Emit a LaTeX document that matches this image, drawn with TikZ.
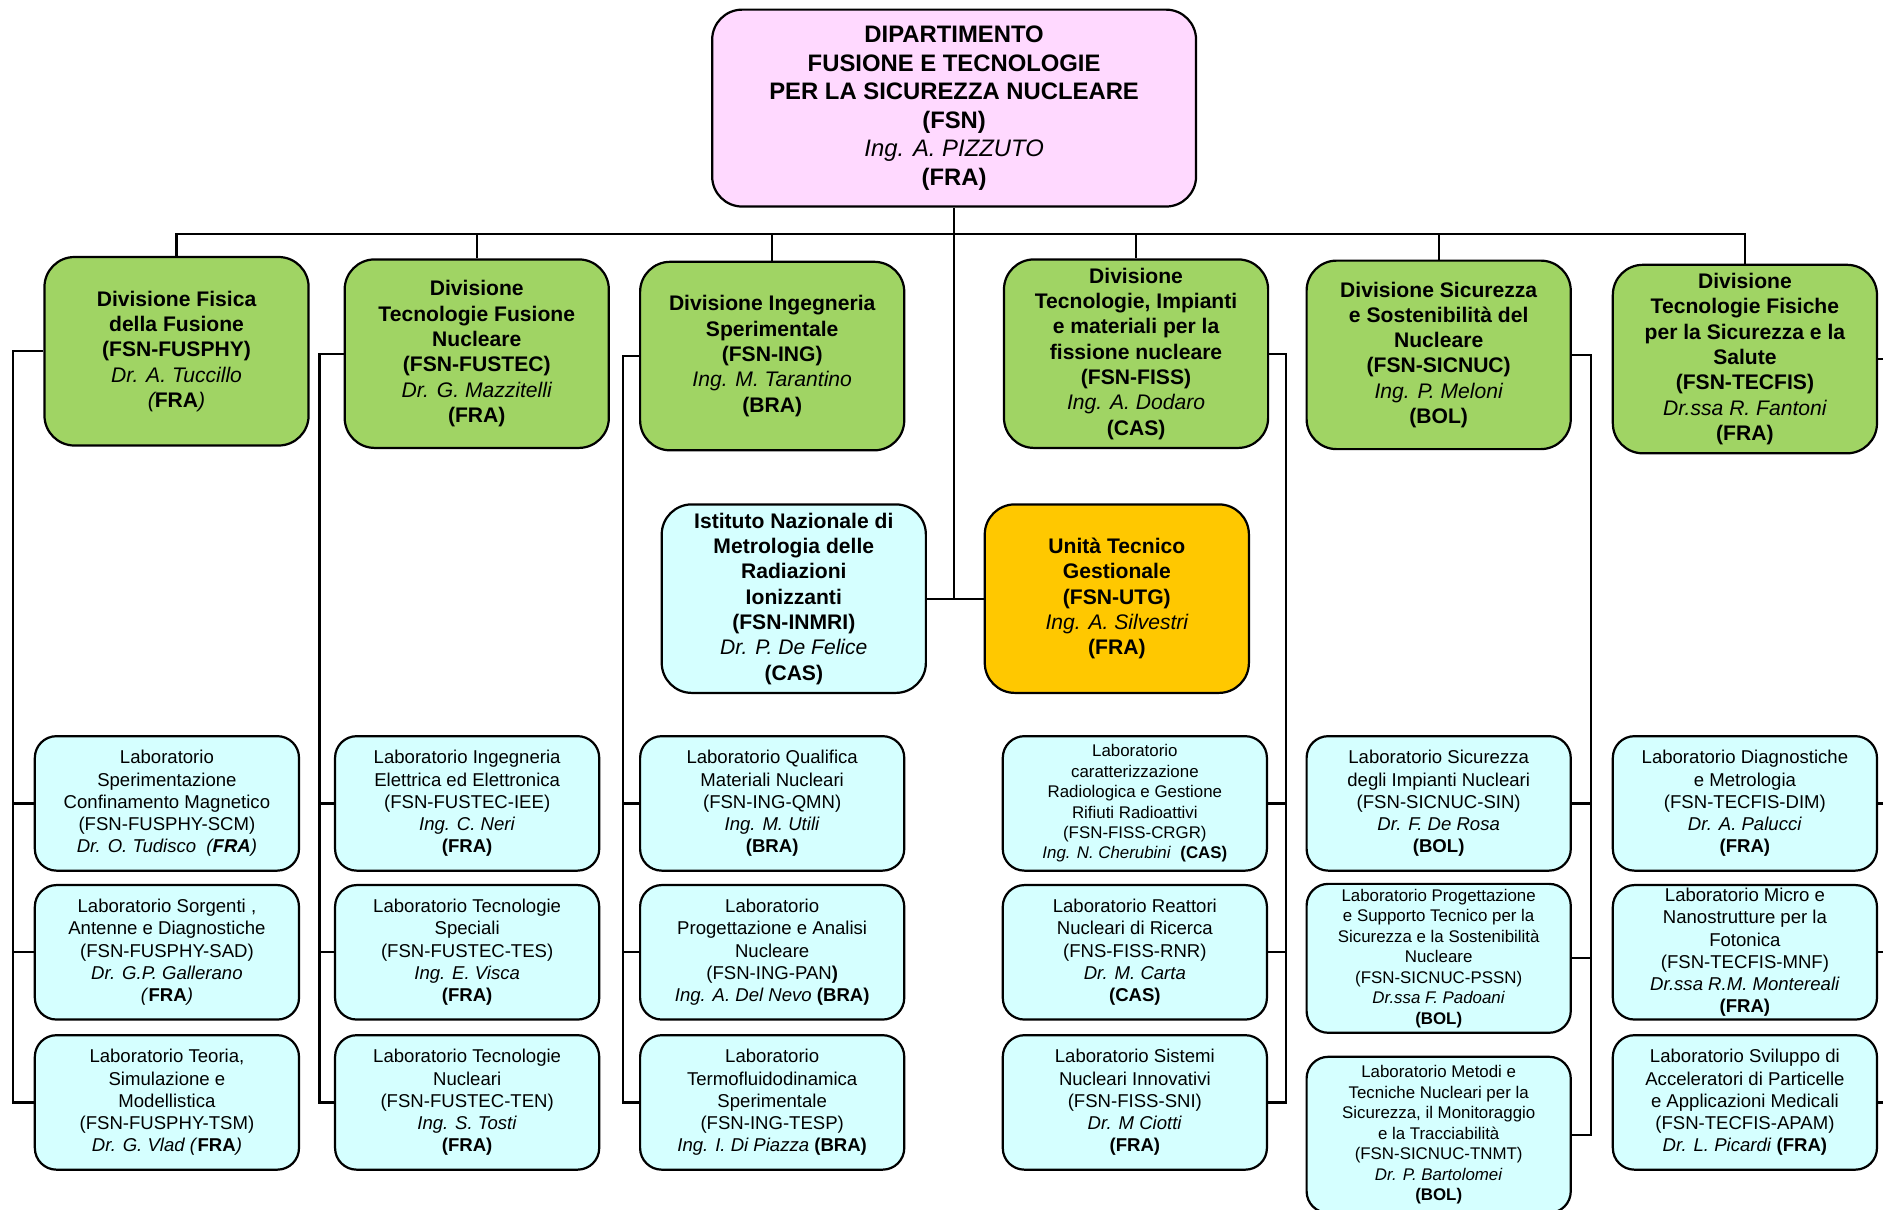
\documentclass[tikz,border=0pt]{standalone}
\usepackage{fontspec}
\setmainfont{Liberation Sans}
\usepackage{tikz}

\definecolor{fsnpink}{RGB}{255,217,255}
\definecolor{divgreen}{RGB}{160,212,100}
\definecolor{labcyan}{RGB}{213,255,255}
\definecolor{utgorange}{RGB}{255,200,0}

\newcommand{\who}[1]{{\mdseries\itshape #1}}

\begin{document}
\begin{tikzpicture}[x=0.02cm, y=-0.02cm, line width=1.05pt,
    dipbox/.style={draw, fill=fsnpink, rounded corners=0.5cm, align=center, inner sep=1pt,
        minimum width=8.06cm, minimum height=3.28cm, font=\fontsize{11.3}{13.5}\selectfont\bfseries},
    divbox/.style={draw, fill=divgreen, rounded corners=0.5cm, align=center, inner sep=1pt,
        minimum width=4.4cm, minimum height=3.14cm, font=\fontsize{10}{12}\selectfont\bfseries},
    labbox/.style={draw, fill=labcyan, rounded corners=0.36cm, align=center, inner sep=1pt,
        minimum width=4.4cm, minimum height=2.24cm, font=\fontsize{8.8}{10.5}\selectfont},
    labsmall/.style={labbox, font=\fontsize{8}{9.7}\selectfont}]

    \useasboundingbox (0,0) rectangle (1568,1007);

    % Department
    \node[dipbox] (dip) at (794.5,90) {DIPARTIMENTO\\FUSIONE E TECNOLOGIE\\PER LA SICUREZZA NUCLEARE\\(FSN)\\\who{Ing. A. PIZZUTO}\\(FRA)};

    % Divisions
    \node[divbox] (div1) at (147,292.5) {Divisione Fisica\\della Fusione\\(FSN-FUSPHY)\\\who{Dr. A. Tuccillo}\\\who{(}FRA\who{)}};
    \node[divbox] (div2) at (397,294.5) {Divisione\\Tecnologie Fusione\\Nucleare\\(FSN-FUSTEC)\\\who{Dr. G. Mazzitelli}\\(FRA)};
    \node[divbox] (div3) at (643,296.5) {Divisione Ingegneria\\Sperimentale\\(FSN-ING)\\\who{Ing. M. Tarantino}\\(BRA)};
    \node[divbox] (div4) at (946,294.5) {Divisione\\Tecnologie, Impianti\\e materiali per la\\fissione nucleare\\(FSN-FISS)\\\who{Ing. A. Dodaro}\\(CAS)};
    \node[divbox] (div5) at (1198,295.5) {Divisione Sicurezza\\e Sostenibilità del\\Nucleare\\(FSN-SICNUC)\\\who{Ing. P. Meloni}\\(BOL)};
    \node[divbox] (div6) at (1453,299) {Divisione\\Tecnologie Fisiche\\per la Sicurezza e la\\Salute\\(FSN-TECFIS)\\\who{Dr.ssa R. Fantoni}\\(FRA)};

    % Institute and unit
    \node[divbox, fill=labcyan] (inmri) at (661,498.5) {Istituto Nazionale di\\Metrologia delle\\Radiazioni\\Ionizzanti\\(FSN-INMRI)\\\who{Dr. P. De Felice}\\(CAS)};
    \node[divbox, fill=utgorange] (utg) at (930,498.5) {Unità Tecnico\\Gestionale\\(FSN-UTG)\\\who{Ing. A. Silvestri}\\(FRA)};

    % Laboratories FUSPHY
    \node[labbox] (lab11) at (139,669) {Laboratorio\\Sperimentazione\\Confinamento Magnetico\\(FSN-FUSPHY-SCM)\\\textit{Dr. O. Tudisco\ \ (\textbf{FRA})}};
    \node[labbox] (lab12) at (139,793) {Laboratorio Sorgenti ,\\Antenne e Diagnostiche\\(FSN-FUSPHY-SAD)\\\textit{Dr. G.P. Gallerano}\\\textit{(}\textbf{FRA}\textit{)}};
    \node[labbox] (lab13) at (139,918) {Laboratorio Teoria,\\Simulazione e\\Modellistica\\(FSN-FUSPHY-TSM)\\\textit{Dr. G. Vlad (}\textbf{FRA}\textit{)}};

    % Laboratories FUSTEC
    \node[labbox] (lab21) at (389,669) {Laboratorio Ingegneria\\Elettrica ed Elettronica\\(FSN-FUSTEC-IEE)\\\textit{Ing. C. Neri}\\\textbf{(FRA)}};
    \node[labbox] (lab22) at (389,793) {Laboratorio Tecnologie\\Speciali\\(FSN-FUSTEC-TES)\\\textit{Ing. E. Visca}\\\textbf{(FRA)}};
    \node[labbox] (lab23) at (389,918) {Laboratorio Tecnologie\\Nucleari\\(FSN-FUSTEC-TEN)\\\textit{Ing. S. Tosti}\\\textbf{(FRA)}};

    % Laboratories ING
    \node[labbox] (lab31) at (643,669) {Laboratorio Qualifica\\Materiali Nucleari\\(FSN-ING-QMN)\\\textit{Ing. M. Utili}\\\textbf{(BRA)}};
    \node[labbox] (lab32) at (643,793) {Laboratorio\\Progettazione e Analisi\\Nucleare\\(FSN-ING-PAN\textbf{)}\\\textit{Ing. A. Del Nevo} \textbf{(BRA)}};
    \node[labbox] (lab33) at (643,918) {Laboratorio\\Termofluidodinamica\\Sperimentale\\(FSN-ING-TESP)\\\textit{Ing. I. Di Piazza} \textbf{(BRA)}};

    % Laboratories FISS
    \node[labsmall] (lab41) at (945,669) {Laboratorio\\caratterizzazione\\Radiologica e Gestione\\Rifiuti Radioattivi\\(FSN-FISS-CRGR)\\\textit{Ing. N. Cherubini}\ \ \textbf{(CAS)}};
    \node[labbox] (lab42) at (945,793) {Laboratorio Reattori\\Nucleari di Ricerca\\(FNS-FISS-RNR)\\\textit{Dr. M. Carta}\\\textbf{(CAS)}};
    \node[labbox] (lab43) at (945,918) {Laboratorio Sistemi\\Nucleari Innovativi\\(FSN-FISS-SNI)\\\textit{Dr. M Ciotti}\\\textbf{(FRA)}};

    % Laboratories SICNUC
    \node[labbox] (lab51) at (1198,669) {Laboratorio Sicurezza\\degli Impianti Nucleari\\(FSN-SICNUC-SIN)\\\textit{Dr. F. De Rosa}\\\textbf{(BOL)}};
    \node[labsmall, minimum height=2.48cm] (lab52) at (1198,798) {Laboratorio Progettazione\\e Supporto Tecnico per la\\Sicurezza e la Sostenibilità\\Nucleare\\(FSN-SICNUC-PSSN)\\\textit{Dr.ssa F. Padoani}\\\textbf{(BOL)}};
    \node[labsmall, minimum height=2.6cm] (lab53) at (1198,945) {Laboratorio Metodi e\\Tecniche Nucleari per la\\Sicurezza, il Monitoraggio\\e la Tracciabilità\\(FSN-SICNUC-TNMT)\\\textit{Dr. P. Bartolomei}\\\textbf{(BOL)}};

    % Laboratories TECFIS
    \node[labbox] (lab61) at (1453,669) {Laboratorio Diagnostiche\\e Metrologia\\(FSN-TECFIS-DIM)\\\textit{Dr. A. Palucci}\\\textbf{(FRA)}};
    \node[labbox] (lab62) at (1453,793) {Laboratorio Micro e\\Nanostrutture per la\\Fotonica\\(FSN-TECFIS-MNF)\\\textit{Dr.ssa R.M. Montereali}\\\textbf{(FRA)}};
    \node[labbox] (lab63) at (1453,918) {Laboratorio Sviluppo di\\Acceleratori di Particelle\\e Applicazioni Medicali\\(FSN-TECFIS-APAM)\\\textit{Dr. L. Picardi} \textbf{(FRA)}};

    % Bus from the department to the divisions
    \coordinate (bus) at (0,195);
    \draw (div1.north) -- (div1.north |- bus) -- (div6.north |- bus) -- (div6.north);
    \foreach \d in {div2,div3,div4,div5} {
        \draw (\d.north) -- (\d.north |- bus);
    }
    \draw (dip.south) -- (dip.south |- inmri.east);
    \draw (inmri.east) -- (utg.west);

    % Divisions to their laboratories (left side)
    \draw (div1.west) -- ++(-25,0) |- (lab13.west);
    \draw (lab11.west) -- ++(-17,0);
    \draw (lab12.west) -- ++(-17,0);
    \draw (div2.west) -- ++(-20,0) |- (lab23.west);
    \draw (lab21.west) -- ++(-12,0);
    \draw (lab22.west) -- ++(-12,0);
    \draw (div3.west) -- ++(-13,0) |- (lab33.west);
    \draw (lab31.west) -- ++(-13,0);
    \draw (lab32.west) -- ++(-13,0);

    % Divisions to their laboratories (right side)
    \draw (div4.east) -- ++(14,0) |- (lab43.east);
    \draw (lab41.east) -- ++(15,0);
    \draw (lab42.east) -- ++(15,0);
    \draw (div5.east) -- ++(16,0) |- (lab53.east);
    \draw (lab51.east) -- ++(16,0);
    \draw (lab52.east) -- ++(16,0);
    \draw (div6.east) -- ++(5,0) |- (lab63.east);
    \draw (lab61.east) -- ++(5,0);
    \draw (lab62.east) -- ++(5,0);
\end{tikzpicture}
\end{document}
